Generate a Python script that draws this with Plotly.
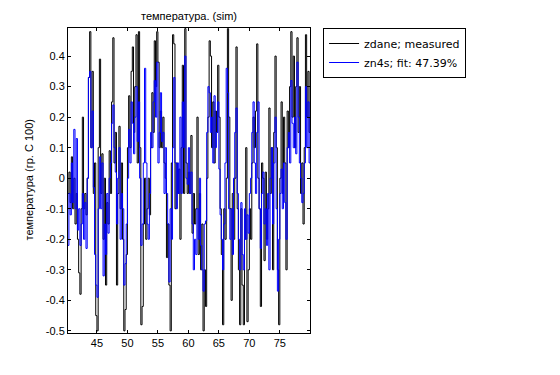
import numpy as np
import plotly.graph_objects as go

t_start = 40.2
t_step = 0.2

measured = [
    -0.05, 0.02, -0.08, 0.07, -0.1, 0.0, -0.15, -0.05, -0.2, -0.31,
    -0.38, -0.1, 0.2, -0.1, -0.05, -0.12, 0.0, 0.33, 0.48, 0.1,
    0.35, -0.05, 0.05, -0.45, -0.5, 0.1, 0.39, -0.05, 0.08, -0.2,
    0.0, -0.35, -0.08, -0.15, 0.09, -0.05, 0.25, 0.46, 0.05, 0.15,
    -0.35, -0.05, 0.17, -0.1, 0.05, -0.2, -0.5, -0.43, -0.25, 0.1,
    0.27, 0.1, 0.35, 0.43, 0.15, 0.3, 0.47, 0.05, 0.48, 0.1,
    -0.48, -0.42, -0.15, 0.0, -0.2, -0.1, 0.0, -0.12, 0.1, 0.28,
    0.15, 0.45, 0.3, 0.48, 0.38, 0.1, 0.22, 0.1, 0.2, 0.05,
    0.0, -0.26, -0.15, -0.35, -0.5, 0.05, 0.47, 0.44, -0.1, 0.05,
    -0.05, 0.03, -0.2, 0.1, 0.37, -0.05, 0.49, 0.05, -0.05, 0.02,
    -0.05, 0.14, -0.18, -0.05, -0.15, -0.1, 0.2, -0.25, -0.05, -0.3,
    -0.15, -0.5, -0.3, -0.42, 0.0, 0.2, 0.45, 0.4, 0.1, 0.25,
    0.05, 0.22, 0.15, 0.37, 0.2, -0.1, -0.25, -0.48, -0.1, -0.2,
    0.0, 0.49, 0.2, -0.1, -0.4, -0.05, -0.2, 0.0, 0.43, -0.1,
    -0.3, -0.48, -0.1, -0.35, -0.48, -0.2, 0.1, -0.47, -0.3, -0.1,
    -0.2, 0.05, 0.2, 0.1, 0.22, 0.44, 0.0, -0.1, -0.42, 0.05,
    0.0, -0.27, 0.02, -0.2, -0.1, 0.23, -0.05, 0.1, -0.3, 0.15,
    0.4, 0.1, -0.3, -0.48, 0.0, 0.25, -0.05, 0.2, 0.05, -0.3,
    0.22, 0.1, 0.3, 0.48, 0.2, 0.4, 0.1, 0.3, 0.46, 0.15,
    0.3, -0.05, 0.05, -0.15, 0.1, 0.47, 0.2, 0.35, 0.15, 0.2,
]

fitted = [
    -0.22, -0.05, -0.12, 0.05, -0.08, 0.16, -0.1, 0.13, -0.17, -0.1,
    -0.22, -0.15, -0.05, -0.2, -0.08, -0.23, 0.0, 0.33, 0.35, 0.1,
    0.22, -0.03, -0.25, -0.35, -0.39, -0.1, 0.07, -0.1, 0.05, -0.32,
    -0.15, -0.25, -0.05, -0.18, 0.0, 0.05, 0.18, 0.24, 0.1, 0.02,
    -0.15, 0.0, 0.1, -0.2, -0.05, -0.1, -0.35, -0.28, -0.15, 0.0,
    0.16, 0.05, 0.25, 0.18, 0.08, 0.2, 0.3, 0.12, 0.25, 0.0,
    -0.22, -0.15, 0.05, 0.36, 0.05, -0.15, -0.2, -0.05, 0.15, 0.1,
    0.25, 0.32, 0.2, 0.38, 0.05, 0.15, 0.28, 0.12, 0.15, -0.05,
    0.1, -0.05, -0.15, -0.34, -0.1, -0.2, 0.1, 0.33, 0.05, -0.1,
    0.05, -0.05, 0.2, -0.05, 0.25, 0.1, 0.4, 0.0, -0.02, 0.1,
    -0.05, 0.02, -0.15, -0.3, -0.2, -0.25, -0.1, -0.2, 0.0, -0.22,
    -0.3, -0.37, -0.15, -0.14, 0.15, 0.3, 0.28, 0.15, 0.2, 0.05,
    0.27, 0.1, 0.15, 0.25, 0.03, -0.12, -0.2, -0.3, -0.15, 0.05,
    0.36, 0.28, -0.1, -0.2, -0.1, -0.25, 0.0, 0.15, 0.23, -0.05,
    -0.2, -0.3, -0.08, -0.25, -0.3, -0.1, -0.2, -0.12, -0.18, -0.05,
    0.0, 0.15, 0.25, 0.05, -0.05, 0.15, 0.25, -0.1, -0.23, -0.05,
    0.02, -0.15, -0.1, -0.22, -0.05, -0.3, 0.0, 0.1, -0.15, 0.05,
    0.2, -0.1, -0.37, -0.2, -0.05, 0.03, -0.1, 0.05, -0.08, -0.2,
    0.1, 0.15, 0.05, 0.32, 0.18, 0.1, 0.2, 0.08, 0.38, 0.2,
    0.05, 0.0, -0.08, -0.05, 0.05, 0.3, 0.1, 0.25, 0.05, 0.2,
]

x_ticks = [45, 50, 55, 60, 65, 70, 75]
y_ticks = [-0.5, -0.4, -0.3, -0.2, -0.1, 0, 0.1, 0.2, 0.3, 0.4]
y_tick_labels = ["-0.5", "-0.4", "-0.3", "-0.2", "-0.1", "0", "0.1", "0.2", "0.3", "0.4"]

t = t_start + t_step * np.arange(len(measured))

font_family = "Liberation Sans, Arial, sans-serif"

fig = go.Figure()
fig.add_trace(go.Scatter(x=t, y=measured, mode="lines", line_shape="hv",
                         line=dict(color="black", width=1),
                         name="zdane; measured"))
fig.add_trace(go.Scatter(x=t, y=fitted, mode="lines", line_shape="hv",
                         line=dict(color="#0000ff", width=1),
                         name="zn4s; fit: 47.39%"))

axis_common = dict(showline=True, linecolor="black", linewidth=1, mirror="ticks",
                   ticks="inside", ticklen=3, tickcolor="black", showgrid=False,
                   zeroline=False, automargin=False,
                   tickfont=dict(family=font_family, size=11, color="black"))

# page has an 8px body margin; offsets below account for it
ml, mt = 60, 20
pw, ph = 242, 305

fig.update_layout(
    width=560, height=375,
    paper_bgcolor="white", plot_bgcolor="white",
    margin=dict(l=ml, r=560 - ml - pw, t=mt, b=375 - mt - ph),
    title=dict(text="температура. (sim)", x=(ml + pw / 2) / 560, xanchor="center",
               y=1 - 8 / 375, yanchor="middle",
               font=dict(family=font_family, size=11, color="black")),
    xaxis=dict(range=[40.25, 79.95], tickvals=x_ticks, **axis_common),
    yaxis=dict(range=[-0.507, 0.492], tickvals=y_ticks, ticktext=y_tick_labels,
               **axis_common),
    annotations=[dict(text="температура (гр. C 100)", xref="paper", yref="paper",
                      x=(20 - ml) / pw, y=0.5, textangle=-90, showarrow=False,
                      xanchor="center", yanchor="middle",
                      font=dict(family=font_family, size=11, color="black"))],
    legend=dict(x=1.054, xanchor="left", y=1.0, yanchor="top",
                bordercolor="black", borderwidth=1, bgcolor="white",
                font=dict(family="DejaVu Sans, sans-serif", size=11, color="black"),
                tracegroupgap=0, itemwidth=30),
    showlegend=True,
)

fig.write_html("out.html")
